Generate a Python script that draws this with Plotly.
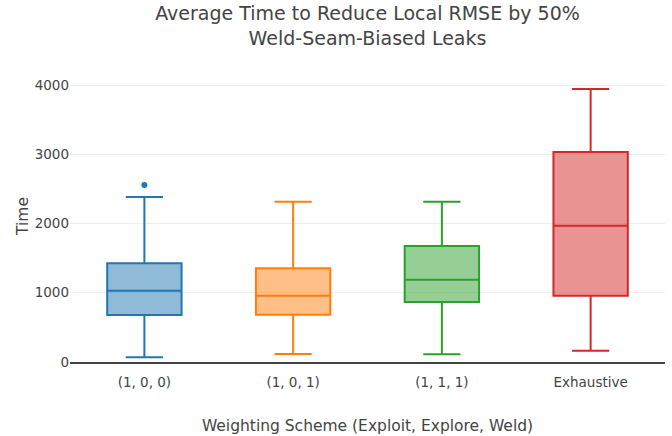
import plotly.graph_objects as go

categories = ["(1, 0, 0)", "(1, 0, 1)", "(1, 1, 1)", "Exhaustive"]
lower_fence = [68, 115, 111, 163]
q1 = [679, 684, 866, 958]
median = [1030, 958, 1189, 1968]
q3 = [1425, 1353, 1675, 3032]
upper_fence = [2383, 2315, 2315, 3942]
outlier_category = ["(1, 0, 0)"]
outlier_value = [2556]
colors = ["#1f77b4", "#ff7f0e", "#2ca02c", "#d62728"]

font_family = "DejaVu Sans, Verdana, sans-serif"

fig = go.Figure()
for i, cat in enumerate(categories):
    fig.add_trace(go.Box(
        x=[cat],
        q1=[q1[i]], median=[median[i]], q3=[q3[i]],
        lowerfence=[lower_fence[i]], upperfence=[upper_fence[i]],
        name=cat,
        marker_color=colors[i],
        line=dict(color=colors[i], width=2),
        width=0.5,
        boxpoints=False,
        showlegend=False,
    ))

fig.add_trace(go.Scatter(
    x=outlier_category, y=outlier_value, mode="markers",
    marker=dict(color=colors[0], size=6), showlegend=False,
))

fig.update_layout(
    width=672, height=436,
    margin=dict(l=70, r=7, t=70, b=74),
    paper_bgcolor="white", plot_bgcolor="white",
    font=dict(family=font_family, size=13.5, color="#444"),
    boxmode="overlay",
    title=dict(
        text="Average Time to Reduce Local RMSE by 50%<br>Weld-Seam-Biased Leaks",
        x=0.5, xref="paper", xanchor="center",
        y=0.954, yref="container", yanchor="middle",
        font=dict(size=19, color="#444", family=font_family),
    ),
    showlegend=False,
)
fig.update_xaxes(
    title=dict(text="Weighting Scheme (Exploit, Explore, Weld)", font=dict(size=15.5), standoff=31),
    categoryorder="array", categoryarray=categories,
    range=[-0.5, 3.5],
    showline=True, linecolor="#444", linewidth=1.5,
    ticks="outside", ticklen=7, tickcolor="rgba(0,0,0,0)",
    showgrid=False, tickfont=dict(size=13.5),
    automargin=False,
)
fig.update_yaxes(
    title=dict(text="Time", font=dict(size=15.5), standoff=2),
    range=[0, 4217], tickvals=[0, 1000, 2000, 3000, 4000],
    showgrid=True, gridcolor="#eee", zeroline=False,
    tickfont=dict(size=13.5),
    automargin=False,
)

fig.write_html(
    "out.html",
    config={"displayModeBar": False},
    post_script="document.body.style.margin='0';",
)
